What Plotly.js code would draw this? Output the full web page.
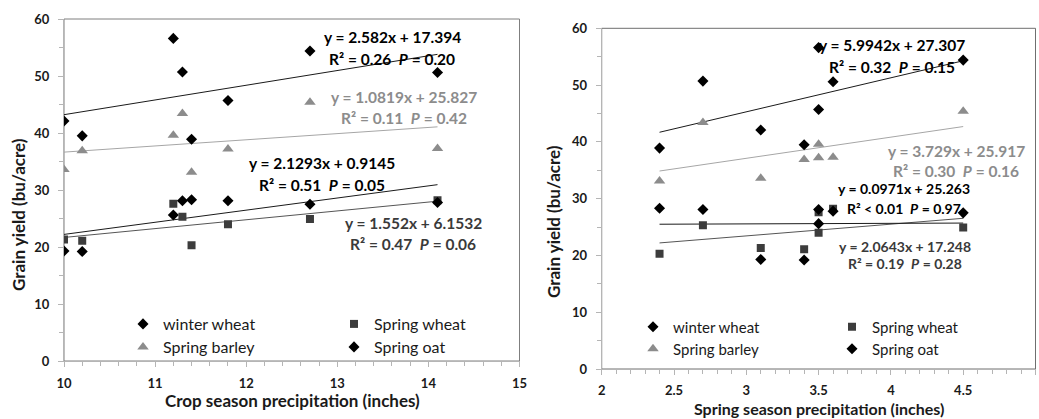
<!DOCTYPE html>
<html><head><meta charset="utf-8">
<script src="https://cdn.plot.ly/plotly-3.0.1.min.js"></script>
<style>html,body{margin:0;padding:0;background:#fff}</style>
</head><body><div id="chart" style="width:1039px;height:419px"></div>
<script>
// ---- data ----
const seriesNames = ['winter wheat', 'Spring wheat', 'Spring barley', 'Spring oat'];
const cropPrecip = [10.0, 10.2, 11.2, 11.3, 11.4, 11.8, 12.7, 14.1];
const springPrecip = [3.1, 3.4, 3.5, 2.7, 2.4, 3.5, 4.5, 3.6];
const winterWheat = [42.1, 39.5, 56.6, 50.7, 38.9, 45.7, 54.4, 50.6];
const springWheat = [21.3, 21.1, 27.6, 25.3, 20.3, 24.0, 24.9, 28.2];
const springBarley = [33.6, 36.9, 39.6, 43.4, 33.1, 37.2, 45.4, 37.3];
const springOat = [19.3, 19.2, 25.6, 28.1, 28.3, 28.1, 27.5, 27.8];
// fitted trendline coefficients (order: winter wheat, spring wheat, spring barley, spring oat)
const cropSlopes = [2.582, 1.552, 1.0819, 2.1293];
const cropIntercepts = [17.394, 6.1532, 25.827, 0.9145];
const springSlopes = [5.9942, 2.0643, 3.729, 0.0971];
const springIntercepts = [27.307, 17.248, 25.917, 25.263];
const cropEq = ['y = 2.582x + 17.394', 'y = 1.552x + 6.1532', 'y = 1.0819x + 25.827', 'y = 2.1293x + 0.9145'];
const cropStat = ['R² = 0.26  <i>P</i> = 0.20', 'R² = 0.47  <i>P</i> = 0.06', 'R² = 0.11  <i>P</i> = 0.42', 'R² = 0.51  <i>P</i> = 0.05'];
const springEq = ['y = 5.9942x + 27.307', 'y = 2.0643x + 17.248', 'y = 3.729x + 25.917', 'y = 0.0971x + 25.263'];
const springStat = ['R² = 0.32  <i>P</i> = 0.15', 'R² = 0.19  <i>P</i> = 0.28', 'R² = 0.30  <i>P</i> = 0.16', 'R² < 0.01  <i>P</i> = 0.97'];
const xTitles = ['Crop season precipitation (inches)', 'Spring season precipitation (inches)'];
const yTitle = 'Grain yield (bu/acre)';

// ---- styles ----
const FONT = 'Lato, "Open Sans", sans-serif';
const markerStyles = [
  {symbol: 'diamond', size: 8.5, color: '#000000'},
  {symbol: 'square', size: 8, color: '#3c3c3c'},
  {symbol: 'triangle-up', size: 10, color: '#8c8c8c'},
  {symbol: 'diamond', size: 8.5, color: '#000000'}
];
const lineColors = ['#1a1a1a', '#555555', '#a6a6a6', '#1a1a1a'];
const textColors = ['#000000', '#3a3a3a', '#8c8c8c', '#000000'];
const ys = [winterWheat, springWheat, springBarley, springOat];

const W = 1039, H = 419;
const px = v => v / W, py = v => 1 - v / H;
const nb = s => s.replace(/  /g, '\u00a0\u00a0');

const traces = [];
function addPanel(xs, slopes, intercepts, xa, ya, legOffset) {
  const xmin = Math.min(...xs), xmax = Math.max(...xs);
  for (let i = 0; i < 4; i++) {
    const lx = [xmin, xmax];
    traces.push({x: lx, y: lx.map(v => slopes[i] * v + intercepts[i]), mode: 'lines',
      line: {color: lineColors[i], width: 1}, xaxis: xa, yaxis: ya, showlegend: false, hoverinfo: 'skip'});
  }
  for (let i = 0; i < 4; i++) {
    const m = markerStyles[i];
    traces.push({x: xs, y: ys[i], mode: 'markers', name: seriesNames[i],
      marker: {symbol: m.symbol, size: m.size, color: m.color, line: {width: 0}},
      xaxis: xa, yaxis: ya, showlegend: true,
      legend: 'legend' + (legOffset + i === 1 ? '' : (legOffset + i))});
  }
}
addPanel(cropPrecip, cropSlopes, cropIntercepts, 'x', 'y', 1);
addPanel(springPrecip, springSlopes, springIntercepts, 'x2', 'y2', 5);

const tickFont = {family: FONT, size: 13, color: '#1a1a1a', weight: 'bold'};
function axis(domain, range, dtick, minorDtick, anchor, standoff) {
  return {domain, range, dtick, anchor, showgrid: false, zeroline: false, showline: true,
    linecolor: '#b5b5b5', linewidth: 1, ticks: 'outside', ticklen: 5, tickcolor: '#b5b5b5',
    tickfont: tickFont, ticklabelstandoff: standoff, fixedrange: true,
    minor: {dtick: minorDtick, ticks: 'outside', ticklen: 4, tickcolor: '#b5b5b5', showgrid: false}};
}

// legends (marker centre ~20px right of legend x)
const legPos = [
  [123, 324], [334, 324], [123, 347], [334, 347],
  [633, 327], [832, 327], [633, 349], [832, 349]
];
const legSizes = [16, 16, 16, 16, 15, 15, 15, 15];
const layout = {
  width: W, height: H, margin: {l: 0, r: 0, t: 0, b: 0},
  paper_bgcolor: '#ffffff', plot_bgcolor: '#ffffff', showlegend: true,
  xaxis: axis([px(64), px(519.5)], [10, 15], 1, 0.2, 'y', 5),
  yaxis: axis([py(361), py(19)], [0, 60], 10, 5, 'x', 6),
  xaxis2: axis([px(601.7), px(1035.5)], [2, 5], 0.5, 0.1, 'y2', 4),
  yaxis2: axis([py(369), py(28.3)], [0, 60], 10, 5, 'x2', 6),
  shapes: [
    {type: 'rect', xref: 'x domain', yref: 'y domain', x0: 0, x1: 1, y0: 0, y1: 1, line: {color: '#7f7f7f', width: 1}, layer: 'below'},
    {type: 'rect', xref: 'x2 domain', yref: 'y2 domain', x0: 0, x1: 1, y0: 0, y1: 1, line: {color: '#6f6f6f', width: 1}, layer: 'below'}
  ],
  annotations: []
};
legPos.forEach((p, k) => {
  const key = 'legend' + (k === 0 ? '' : (k + 1));
  layout[key] = {x: px(p[0]), y: py(p[1]), xanchor: 'left', yanchor: 'middle',
    bgcolor: 'rgba(0,0,0,0)', borderwidth: 0,
    font: {family: FONT, size: legSizes[k], color: '#1a1a1a'}, itemclick: false, itemdoubleclick: false};
});

// equation labels (pixel centres)
const cropLabelPos = [[392, 37, 59], [413, 223, 244], [404, 97, 118], [322, 163, 185]];
const springLabelPos = [[892, 45, 67], [905, 246, 263], [956, 151, 171], [904, 189, 208]];
function addLabels(eqs, stats, pos, sizes) {
  for (let i = 0; i < 4; i++) {
    const f = {family: FONT, size: sizes[i], color: textColors[i], weight: 'bold'};
    layout.annotations.push({xref: 'paper', yref: 'paper', x: px(pos[i][0]), y: py(pos[i][1]),
      xanchor: 'center', yanchor: 'middle', showarrow: false, text: nb(eqs[i]), font: f});
    layout.annotations.push({xref: 'paper', yref: 'paper', x: px(pos[i][0]), y: py(pos[i][2]),
      xanchor: 'center', yanchor: 'middle', showarrow: false, text: nb(stats[i]), font: f});
  }
}
addLabels(cropEq, cropStat, cropLabelPos, [15.5, 15.5, 15.5, 15.5]);
addLabels(springEq, springStat, springLabelPos, [15.5, 14, 15.5, 14]);

// axis titles
const titleFont = {family: FONT, size: 17, color: '#1a1a1a', weight: 'bold'};
const titleFont2 = {family: FONT, size: 16, color: '#1a1a1a', weight: 'bold'};
layout.annotations.push(
  {xref: 'paper', yref: 'paper', x: px(292), y: py(400), xanchor: 'center', yanchor: 'middle', showarrow: false, text: xTitles[0], font: titleFont},
  {xref: 'paper', yref: 'paper', x: px(819), y: py(408), xanchor: 'center', yanchor: 'middle', showarrow: false, text: xTitles[1], font: titleFont2},
  {xref: 'paper', yref: 'paper', x: px(18), y: py(215), xanchor: 'center', yanchor: 'middle', showarrow: false, textangle: -90, text: yTitle, font: titleFont},
  {xref: 'paper', yref: 'paper', x: px(553), y: py(222), xanchor: 'center', yanchor: 'middle', showarrow: false, textangle: -90, text: yTitle, font: titleFont}
);

Plotly.newPlot('chart', traces, layout, {staticPlot: true, displayModeBar: false});
</script></body></html>
